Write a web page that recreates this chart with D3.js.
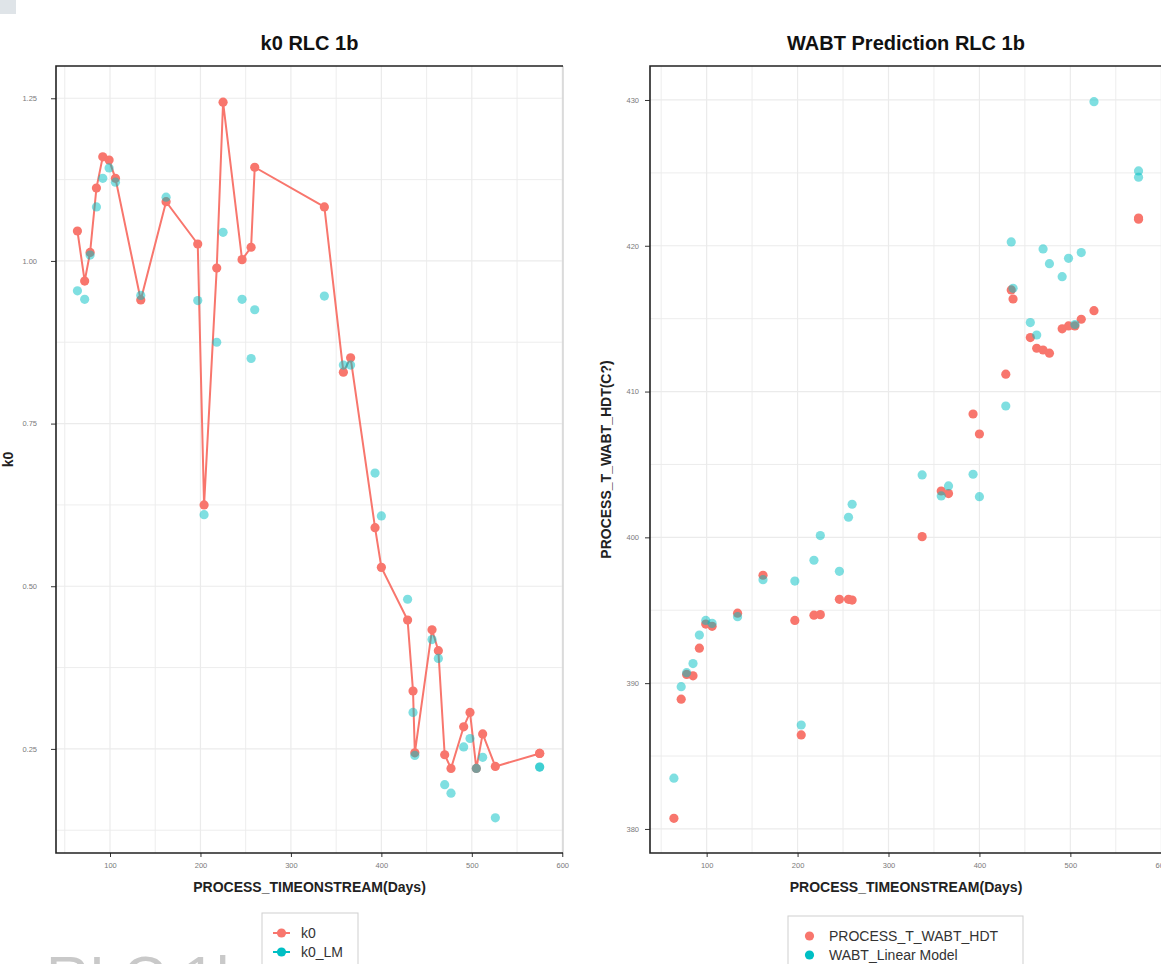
<!DOCTYPE html>
<html>
<head>
<meta charset="utf-8">
<script src="https://cdn.jsdelivr.net/npm/d3@7"></script>
<style>
  body { margin: 0; background: #fff; }
  text { font-family: "Liberation Sans", Arial, sans-serif; }
</style>
</head>
<body>
<script>
// days on stream, shared by both panels (last one appears twice)
const days = [64, 72, 78, 85, 92, 99, 106, 134, 162, 197, 204, 218, 225, 246, 256, 260,
  337, 358, 366, 393, 400, 429, 435, 437, 456, 463, 470, 477, 491, 498, 505, 512, 526, 575, 575];

const k0 = [1.046, 0.969, 1.013, 1.112, 1.160, 1.155, 1.127, 0.940, 1.091, 1.026, 0.625, 0.989,
  1.244, 1.002, 1.021, 1.144, 1.083, 0.829, 0.851, 0.590, 0.529, 0.448, 0.339, 0.244, 0.433,
  0.401, 0.241, 0.220, 0.284, 0.306, 0.220, 0.273, 0.223, 0.243, 0.243];
const k0LM = [0.954, 0.941, 1.009, 1.083, 1.127, 1.143, 1.121, 0.947, 1.098, 0.939, 0.610, 0.875,
  1.044, 0.941, 0.850, 0.925, 0.946, 0.840, 0.840, 0.674, 0.608, 0.480, 0.306, 0.240, 0.418,
  0.389, 0.195, 0.182, 0.253, 0.266, 0.220, 0.237, 0.144, 0.222, 0.222];

const wabt = [380.73, 388.9, 390.6, 390.5, 392.4, 394.05, 393.9, 394.8, 397.4, 394.3, 386.45,
  394.66, 394.7, 395.75, 395.75, 395.7, 400.05, 403.18, 403.0, 408.46, 407.09, 411.19, 416.97,
  416.35, 413.7, 412.97, 412.85, 412.63, 414.3, 414.5, 414.5, 414.96, 415.55, 421.82, 421.9];
const wabtLM = [383.48, 389.76, 390.72, 391.34, 393.3, 394.3, 394.1, 394.56, 397.1, 397.0, 387.13,
  398.43, 400.12, 397.67, 401.38, 402.27, 404.28, 402.84, 403.53, 404.33, 402.79, 409.01, 420.26,
  417.08, 414.73, 413.88, 419.78, 418.77, 417.88, 419.14, 414.6, 419.53, 429.88, 425.13, 424.7];

const xTicks = [100, 200, 300, 400, 500, 600];
const xMinor = [50, 150, 250, 350, 450, 550];
const k0Ticks = [0.25, 0.5, 0.75, 1.0, 1.25];
const k0Minor = [0.125, 0.375, 0.625, 0.875, 1.125];
const wabtTicks = [380, 390, 400, 410, 420, 430];
const wabtMinor = [385, 395, 405, 415, 425];

const RED = "#F8766D", TEAL = "#00BFC4";

const svg = d3.select("body").append("svg")
  .attr("width", 1161).attr("height", 964);

// little grey block in the corner of the screenshot
svg.append("rect").attr("x", 0).attr("y", 0).attr("width", 16).attr("height", 14).attr("fill", "#dfe4e8");

function panel(o) {
  const x = d3.scaleLinear().domain(o.xDomain).range([o.left, o.right]);
  const y = d3.scaleLinear().domain(o.yDomain).range([o.bottom, o.top]);
  const g = svg.append("g");

  // grid
  const grid = g.append("g").attr("stroke", "#ebebeb");
  grid.selectAll(".vx").data(xTicks.concat(xMinor)).join("line")
    .attr("x1", d => x(d)).attr("x2", d => x(d)).attr("y1", o.top).attr("y2", o.bottom)
    .attr("stroke-width", d => xTicks.includes(d) ? 1.2 : 0.9);
  grid.selectAll(".hy").data(o.yTicks.concat(o.yMinor)).join("line")
    .attr("y1", d => y(d)).attr("y2", d => y(d)).attr("x1", o.left).attr("x2", o.right)
    .attr("stroke-width", d => o.yTicks.includes(d) ? 1.2 : 0.9);

  // axes
  const xAxis = d3.axisBottom(x).tickValues(xTicks).tickSize(4).tickPadding(6);
  const gx = g.append("g").attr("transform", `translate(0,${o.bottom})`).call(xAxis);
  const yAxis = d3.axisLeft(y).tickValues(o.yTicks).tickSize(5).tickPadding(o.yPad).tickFormat(o.yFmt);
  const gy = g.append("g").attr("transform", `translate(${o.left},0)`).call(yAxis);
  [gx, gy].forEach(a => {
    a.select(".domain").remove();
    a.selectAll(".tick line").attr("stroke", "#333").attr("stroke-width", 1);
    a.selectAll(".tick text").attr("fill", "#7a7a7a").attr("font-size", "7.5px")
      .style("font-family", "'Liberation Sans', Arial, sans-serif");
  });

  // frame
  g.append("line").attr("x1", o.right).attr("x2", o.right).attr("y1", o.top).attr("y2", o.bottom)
    .attr("stroke", "#d4d4d4").attr("stroke-width", 1.5);
  g.append("path")
    .attr("d", `M${o.right},${o.top}H${o.left}V${o.bottom}H${o.right}`)
    .attr("fill", "none").attr("stroke", "#222").attr("stroke-width", 1.6);

  // marks
  if (o.line) {
    g.append("path").datum(days.map((d, i) => [d, o.s1[i]]))
      .attr("fill", "none").attr("stroke", RED).attr("stroke-width", 2)
      .attr("d", d3.line().x(d => x(d[0])).y(d => y(d[1])));
  }
  g.selectAll(".p1").data(days).join("circle")
    .attr("cx", d => x(d)).attr("cy", (d, i) => y(o.s1[i])).attr("r", 4.6).attr("fill", RED);
  g.selectAll(".p2").data(days).join("circle")
    .attr("cx", d => x(d)).attr("cy", (d, i) => y(o.s2[i])).attr("r", 4.6)
    .attr("fill", TEAL).attr("fill-opacity", 0.5);

  // titles
  const cx = (o.left + o.right) / 2;
  g.append("text").attr("x", cx).attr("y", 50).attr("text-anchor", "middle")
    .attr("font-size", "20px").attr("font-weight", "bold").attr("fill", "#111").text(o.title);
  g.append("text").attr("x", cx).attr("y", 892).attr("text-anchor", "middle")
    .attr("font-size", "14px").attr("font-weight", "bold").attr("fill", "#222")
    .text("PROCESS_TIMEONSTREAM(Days)");
  g.append("text").attr("transform", `translate(${o.yTitleX},${(o.top + o.bottom) / 2}) rotate(-90)`)
    .attr("text-anchor", "middle").attr("font-size", "14px").attr("font-weight", "bold")
    .attr("fill", "#222").text(o.yTitle);
}

panel({
  left: 56, right: 563, top: 66, bottom: 853,
  xDomain: [40.3, 600.8], yDomain: [0.09, 1.2996],
  yTicks: k0Ticks, yMinor: k0Minor, yFmt: d3.format(".2f"), yPad: 14,
  s1: k0, s2: k0LM, line: true,
  title: "k0 RLC 1b", yTitle: "k0", yTitleX: 13
});

panel({
  left: 650, right: 1162, top: 66, bottom: 853,
  xDomain: [37.7, 600.8], yDomain: [378.35, 432.33],
  yTicks: wabtTicks, yMinor: wabtMinor, yFmt: d3.format("d"), yPad: 6,
  s1: wabt, s2: wabtLM, line: false,
  title: "WABT Prediction RLC 1b", yTitle: "PROCESS_T_WABT_HDT(C?)", yTitleX: 611
});

// faint big label cut off at the bottom of the screenshot
svg.append("text").attr("x", 46).attr("y", 998).attr("font-size", "60px").attr("fill", "#c9c9c9")
  .text("RLC 1b");

// legends
function legend(x0, y0, w, items, withLine, glyphX, textX) {
  const lg = svg.append("g");
  lg.append("rect").attr("x", x0).attr("y", y0).attr("width", w).attr("height", 70)
    .attr("fill", "#fff").attr("stroke", "#cfcfcf").attr("stroke-width", 1);
  items.forEach((it, i) => {
    const cy = y0 + 20 + i * 19;
    if (withLine) {
      lg.append("line").attr("x1", glyphX - 8.5).attr("x2", glyphX + 8.5).attr("y1", cy).attr("y2", cy)
        .attr("stroke", it.color).attr("stroke-width", 2);
    }
    lg.append("circle").attr("cx", glyphX).attr("cy", cy).attr("r", 4.6).attr("fill", it.color);
    lg.append("text").attr("x", textX).attr("y", cy).attr("dy", "0.36em")
      .attr("font-size", "14px").attr("fill", "#333").text(it.label);
  });
}

legend(262, 913, 96, [{ label: "k0", color: RED }, { label: "k0_LM", color: TEAL }], true, 281.5, 301);
legend(788, 916, 235, [{ label: "PROCESS_T_WABT_HDT", color: RED }, { label: "WABT_Linear Model", color: TEAL }], false, 809.5, 829);
</script>
</body>
</html>
